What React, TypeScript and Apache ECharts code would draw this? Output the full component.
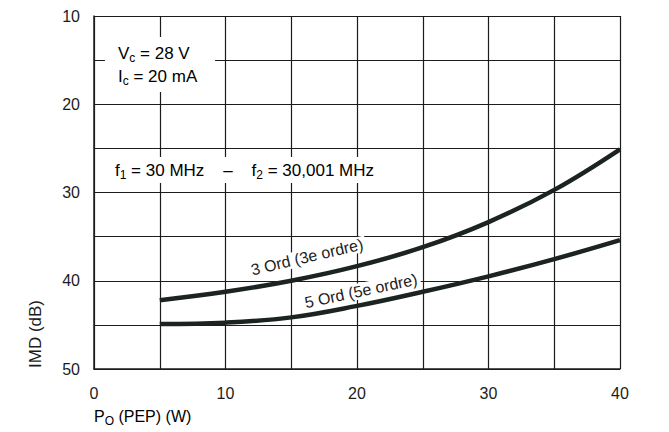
import React, { useEffect, useRef } from "react";
import * as echarts from "echarts";

const xTicks = [0, 5, 10, 15, 20, 25, 30, 35, 40];
const powerW = [5, 10, 15, 20, 25, 30, 35, 40];
const imd3rd = [42.2, 41.25, 40.0, 38.35, 36.2, 33.35, 29.7, 25.1];
const imd5th = [44.9, 44.75, 44.15, 42.85, 41.25, 39.5, 37.55, 35.4];
const label3 = "3 Ord (3e ordre)";
const label5 = "5 Ord (5e ordre)";

const FONT = "'Liberation Sans', Arial, sans-serif";
const INK = "#1c1c1c";
const CURVE = "#1b2420";

const rich = {
  n: { fontSize: 17, fontFamily: FONT, color: INK },
  s: { fontSize: 12, fontFamily: FONT, color: INK, padding: [10, 0, 0, 0] },
};
const richAxis = {
  n: { fontSize: 16, fontFamily: FONT, color: INK },
  s: { fontSize: 12, fontFamily: FONT, color: INK, padding: [9, 0, 0, 0] },
};

export default function App() {
  const ref = useRef<HTMLDivElement>(null);
  useEffect(() => {
    document.body.style.margin = "0";
    const chart = echarts.init(ref.current!, null, { renderer: "svg" });
    const mk = (vals: number[]) => powerW.map((x, i) => [x, vals[i]]);
    chart.setOption({
      animation: false,
      backgroundColor: "#ffffff",
      grid: { left: 94, right: 49, top: 16, bottom: 63 },
      xAxis: {
        type: "value",
        min: xTicks[0],
        max: xTicks[xTicks.length - 1],
        interval: 5,
        axisLine: { show: true, onZero: false, lineStyle: { color: INK, width: 1.5 } },
        axisTick: { show: false },
        splitLine: { show: true, lineStyle: { color: INK, width: 1.2 } },
        axisLabel: {
          margin: 16,
          fontSize: 16,
          fontFamily: FONT,
          color: INK,
          formatter: (v: number) => (v % 10 === 0 ? String(v) : ""),
        },
      },
      yAxis: {
        type: "value",
        inverse: true,
        min: 10,
        max: 50,
        interval: 5,
        axisLine: { show: true, lineStyle: { color: INK, width: 1.5 } },
        axisTick: { show: false },
        splitLine: { show: true, lineStyle: { color: INK, width: 1.2 } },
        axisLabel: {
          margin: 14,
          fontSize: 16,
          fontFamily: FONT,
          color: INK,
          formatter: (v: number) => (v % 10 === 0 ? String(v) : ""),
        },
      },
      series: [
        {
          type: "line",
          data: mk(imd3rd),
          smooth: 0.4,
          showSymbol: false,
          lineStyle: { color: CURVE, width: 4.5 },
          z: 3,
        },
        {
          type: "line",
          data: mk(imd5th),
          smooth: 0.4,
          showSymbol: false,
          lineStyle: { color: CURVE, width: 4.5 },
          z: 3,
        },
      ],
      graphic: [
        { type: "rect", z: 100, shape: { x: 105, y: 37, width: 110, height: 55 }, style: { fill: "#ffffff" } },
        {
          type: "text", z: 101, x: 118, y: 53,
          style: { text: "{n|V}{s|c}{n| = 28 V}", rich, verticalAlign: "middle", align: "left" },
        },
        {
          type: "text", z: 101, x: 118, y: 76,
          style: { text: "{n|I}{s|c}{n| = 20 mA}", rich, verticalAlign: "middle", align: "left" },
        },
        { type: "rect", z: 100, shape: { x: 104, y: 157, width: 298, height: 26 }, style: { fill: "#ffffff" } },
        {
          type: "text", z: 101, x: 115, y: 170,
          style: {
            text: "{n|f}{s|1}{n| = 30 MHz    –    f}{s|2}{n| = 30,001 MHz}",
            rich, verticalAlign: "middle", align: "left",
          },
        },
        {
          type: "text", z: 101, x: 307, y: 257, rotation: 0.23,
          style: {
            text: label3, font: "16px " + FONT, fill: INK, align: "center", verticalAlign: "middle",
            backgroundColor: "#ffffff", padding: [0, 3],
          },
        },
        {
          type: "text", z: 101, x: 361, y: 291, rotation: 0.21,
          style: {
            text: label5, font: "16px " + FONT, fill: INK, align: "center", verticalAlign: "middle",
            backgroundColor: "#ffffff", padding: [0, 3],
          },
        },
        {
          type: "text", z: 101, x: 35, y: 334, rotation: Math.PI / 2,
          style: { text: "IMD (dB)", font: "17px " + FONT, fill: INK, align: "center", verticalAlign: "middle" },
        },
        {
          type: "text", z: 101, x: 94, y: 416,
          style: { text: "{n|P}{s|O}{n| (PEP) (W)}", rich: richAxis, verticalAlign: "middle", align: "left" },
        },
      ],
    });
    return () => chart.dispose();
  }, []);
  return <div ref={ref} style={{ width: 669, height: 432 }} />;
}
